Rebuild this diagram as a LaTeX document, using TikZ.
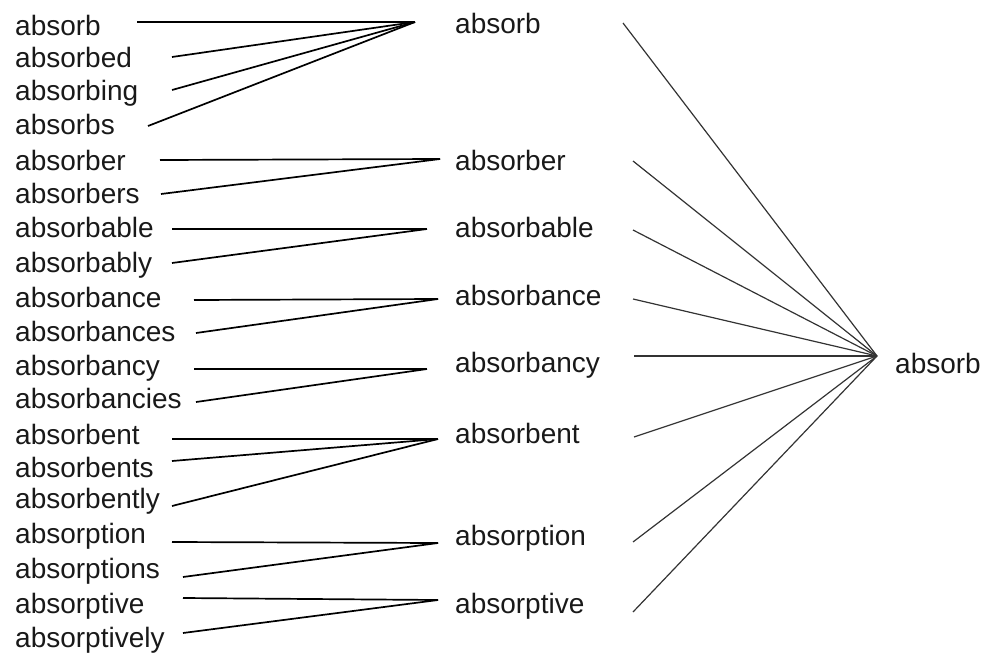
\documentclass[tikz,border=0pt]{standalone}
\usepackage{fontspec}
\setmainfont{Liberation Sans}
\tikzstyle{word} = [anchor=base west, inner sep=0pt, text=black!90,
    font=\fontsize{28}{30}\selectfont]
\tikzstyle{line} = [draw, line width=1.7pt]
\tikzstyle{ray} = [draw, line width=1.2pt, black!80]

\begin{document}
\begin{tikzpicture}[x=1pt, y=-1pt]
        \useasboundingbox (0,0) rectangle (986,653);
        % Place nodes
        % 1. Word forms
        \node [word] (l1) at (15,35) {absorb};
        \node [word] (l2) at (15,67) {absorbed};
        \node [word] (l3) at (15,100) {absorbing};
        \node [word] (l4) at (15,134) {absorbs};
        \node [word] (l5) at (15,170) {absorber};
        \node [word] (l6) at (15,203) {absorbers};
        \node [word] (l7) at (15,237) {absorbable};
        \node [word] (l8) at (15,272) {absorbably};
        \node [word] (l9) at (15,307) {absorbance};
        \node [word] (l10) at (15,341) {absorbances};
        \node [word] (l11) at (15,375) {absorbancy};
        \node [word] (l12) at (15,408) {absorbancies};
        \node [word] (l13) at (15,444) {absorbent};
        \node [word] (l14) at (15,477) {absorbents};
        \node [word] (l15) at (15,508) {absorbently};
        \node [word] (l16) at (15,543) {absorption};
        \node [word] (l17) at (15,578) {absorptions};
        \node [word] (l18) at (15,613) {absorptive};
        \node [word] (l19) at (15,647) {absorptively};

        % 2. Stems
        \node [word] (m1) at (455,33) {absorb};
        \node [word] (m2) at (455,170) {absorber};
        \node [word] (m3) at (455,237) {absorbable};
        \node [word] (m4) at (455,305) {absorbance};
        \node [word] (m5) at (455,372) {absorbancy};
        \node [word] (m6) at (455,443) {absorbent};
        \node [word] (m7) at (455,545) {absorption};
        \node [word] (m8) at (455,613) {absorptive};

        % 3. Root
        \node [word] (root) at (895,373) {absorb};

        % Junctions
        \coordinate (c1) at (415,22);
        \coordinate (c2) at (440,159);
        \coordinate (c3) at (427,229);
        \coordinate (c4) at (438,299);
        \coordinate (c5) at (427,369);
        \coordinate (c6) at (438,439);
        \coordinate (c7) at (438,543);
        \coordinate (c8) at (438,600);
        \coordinate (r) at (877,356);

        % Draw edges
        \path [line] ([shift={(122,-13)}]l1.base west) -- (c1);
        \path [line] ([shift={(157,-10)}]l2.base west) -- (c1);
        \path [line] ([shift={(157,-10)}]l3.base west) -- (c1);
        \path [line] ([shift={(133,-8)}]l4.base west) -- (c1);
        \path [line] ([shift={(145,-10)}]l5.base west) -- (c2);
        \path [line] ([shift={(146,-9)}]l6.base west) -- (c2);
        \path [line] ([shift={(157,-8)}]l7.base west) -- (c3);
        \path [line] ([shift={(157,-9)}]l8.base west) -- (c3);
        \path [line] ([shift={(179,-7)}]l9.base west) -- (c4);
        \path [line] ([shift={(181,-8)}]l10.base west) -- (c4);
        \path [line] ([shift={(179,-6)}]l11.base west) -- (c5);
        \path [line] ([shift={(181,-6)}]l12.base west) -- (c5);
        \path [line] ([shift={(157,-5)}]l13.base west) -- (c6);
        \path [line] ([shift={(157,-16)}]l14.base west) -- (c6);
        \path [line] ([shift={(157,-2)}]l15.base west) -- (c6);
        \path [line] ([shift={(157,-1)}]l16.base west) -- (c7);
        \path [line] ([shift={(168,-1)}]l17.base west) -- (c7);
        \path [line] ([shift={(168,-15)}]l18.base west) -- (c8);
        \path [line] ([shift={(168,-14)}]l19.base west) -- (c8);

        \path [ray] ([shift={(168,-10)}]m1.base west) -- (r);
        \path [ray] ([shift={(178,-9)}]m2.base west) -- (r);
        \path [ray] ([shift={(178,-7)}]m3.base west) -- (r);
        \path [ray] ([shift={(178,-6)}]m4.base west) -- (r);
        \path [ray] ([shift={(179,-16)}]m5.base west) -- (r);
        \path [ray] ([shift={(179,-6)}]m6.base west) -- (r);
        \path [ray] ([shift={(178,-3)}]m7.base west) -- (r);
        \path [ray] ([shift={(178,-1)}]m8.base west) -- (r);

      \end{tikzpicture}
\end{document}
